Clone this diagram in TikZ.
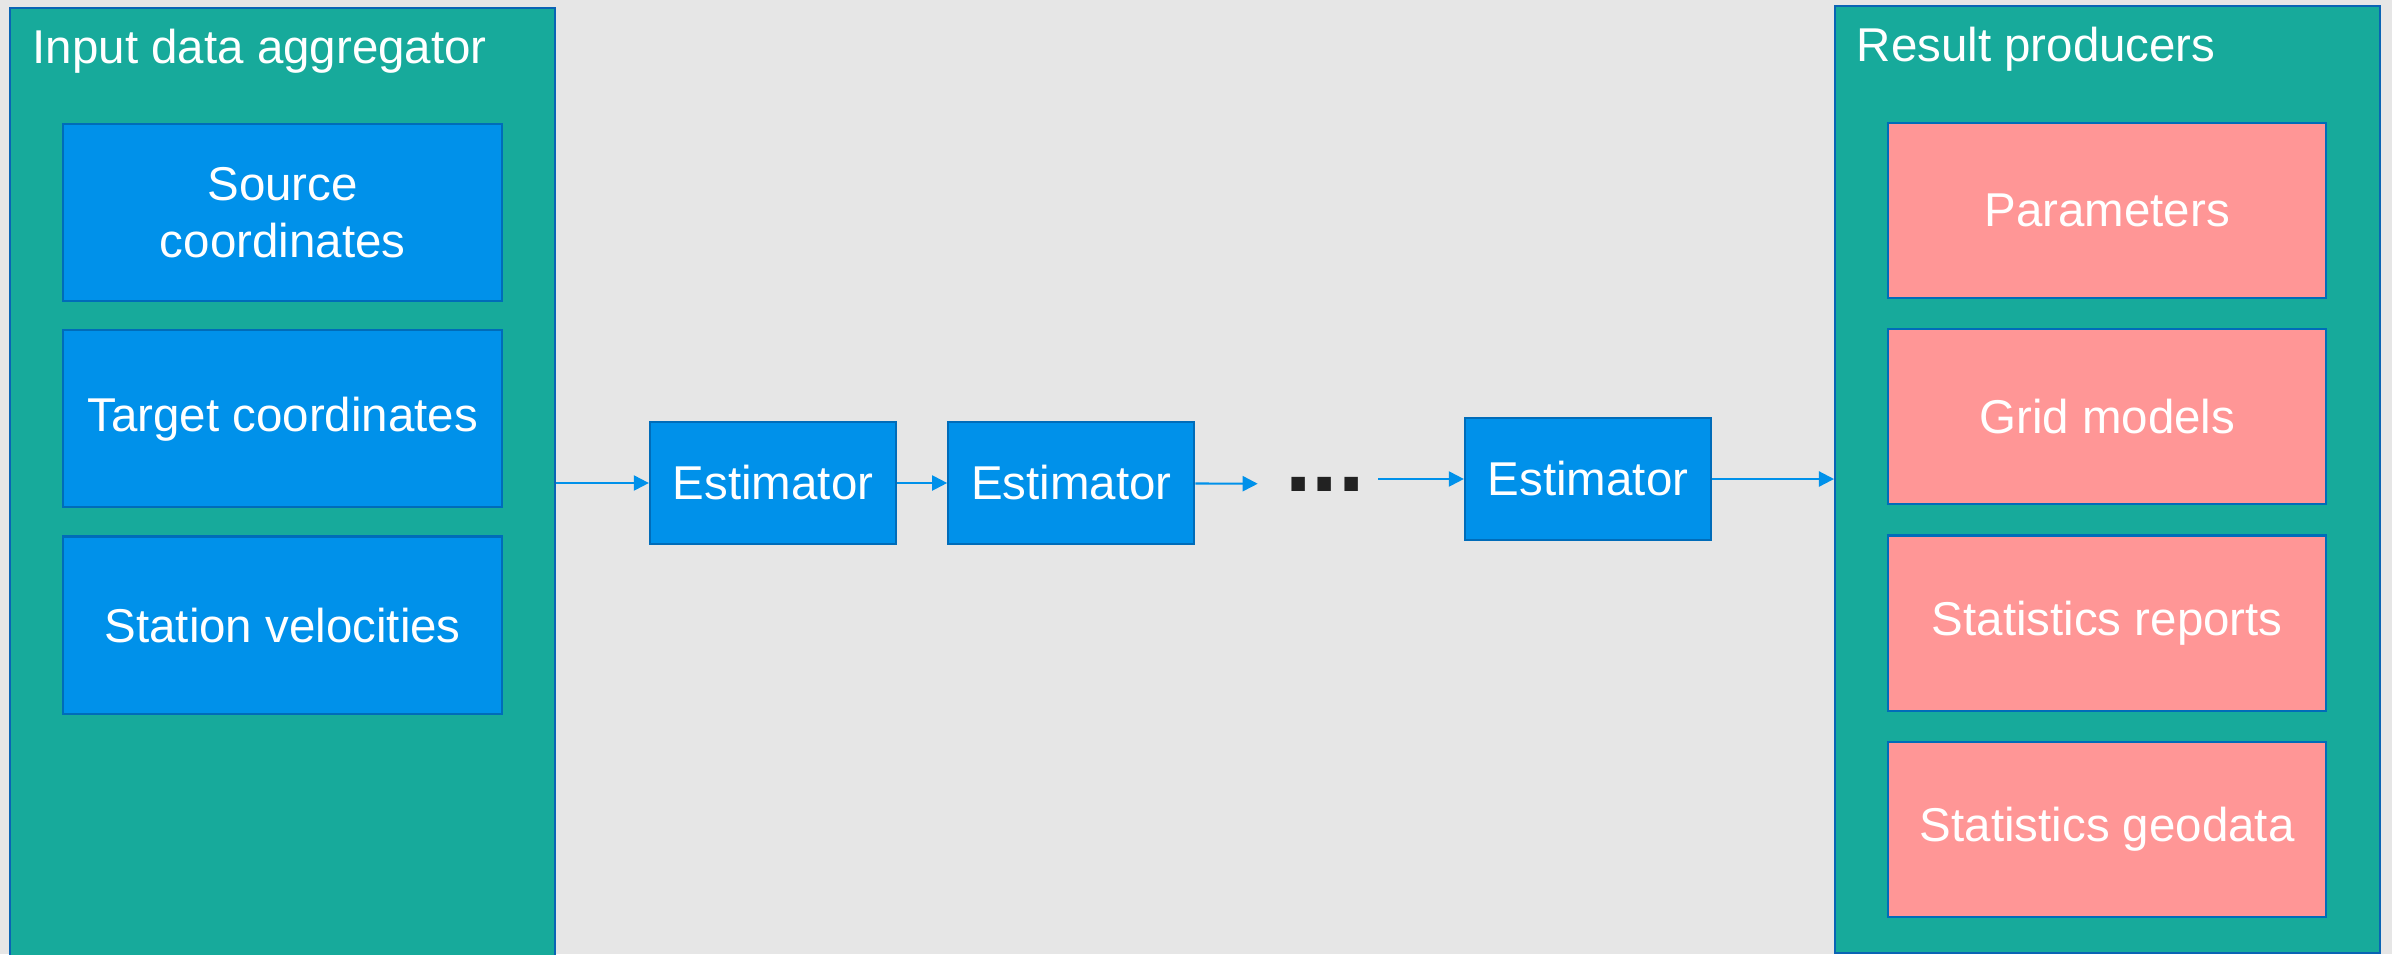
\documentclass[tikz,border=0pt]{standalone}
\usepackage{fontspec}
\setmainfont{Liberation Sans}
\usetikzlibrary{arrows.meta,positioning}

\definecolor{backgray}{RGB}{230,230,230}
\definecolor{panelfill}{RGB}{23,170,155}
\definecolor{panelline}{RGB}{10,100,180}
\definecolor{boxblue}{RGB}{0,145,234}
\definecolor{boxline}{RGB}{0,108,185}
\definecolor{boxpink}{RGB}{255,150,150}
\definecolor{dotgray}{RGB}{34,34,34}

\begin{document}
\begin{tikzpicture}[x=0.01cm,y=-0.01cm,>={Triangle[length=4.3pt,width=4.3pt]},
  group node/.style={rectangle,draw=panelline,fill=panelfill,line width=0.6pt,inner sep=0pt},
  title node/.style={text=white,font=\fontsize{13.5}{16.2}\selectfont,inner sep=0pt,anchor=base west},
  input node/.style={rectangle,draw=boxline,fill=boxblue,line width=0.6pt,text=white,align=center,
    font=\fontsize{13.5}{16.2}\selectfont,minimum width=4.39cm,minimum height=1.77cm},
  output node/.style={input node,fill=boxpink,minimum width=4.38cm,minimum height=1.75cm},
  est node/.style={input node,minimum width=2.46cm,minimum height=1.22cm},
  link/.style={->,draw=boxblue,line width=0.6pt}]

  % background
  \fill[backgray] (0,0) rectangle (2392,954);
  \useasboundingbox (0,0) rectangle (2392,954);

  % the two groups
  \node[group node,anchor=north west,minimum width=5.45cm,minimum height=10cm] (agg) at (9,7) {};
  \node[group node,anchor=north west,minimum width=5.45cm,minimum height=9.46cm] (res) at (1834,5) {};
  \node[title node] (aggtitle) at (32,63) {Input data aggregator};
  \node[title node] (restitle) at (1856,61) {Result producers};

  % inputs
  \node[input node,anchor=north west] (src) at (62,123) {Source\\coordinates};
  \node[input node] (tgt) [below=0.27cm of src] {Target coordinates};
  \node[input node] (vel) [below=0.27cm of tgt] {Station velocities};

  % outputs
  \node[output node,anchor=north west] (par) at (1887,122) {Parameters};
  \node[output node] (grid) [below=0.29cm of par] {Grid models};
  \node[output node] (rep) [below=0.29cm of grid] {Statistics reports};
  \node[output node] (geo) [below=0.29cm of rep] {Statistics geodata};

  % chain of estimators
  \node[est node] (est1) at (773,483) {Estimator};
  \node[est node] (est2) [right=0.5cm of est1] {Estimator};
  \node[text=dotgray,inner sep=0pt,font=\fontsize{27}{27}\selectfont\bfseries] (dots) at (1325,484) {...};
  \node[est node] (est3) at (1588,479) {Estimator};

  \draw[link] (agg.east |- est1.west) -- (est1.west);
  \draw[link] (est1) -- (est2);
  \draw[link,shorten >=0.27cm] (est2) -- (dots);
  \draw[link,shorten <=0.13cm] (dots.east |- est3.west) -- (est3.west);
  \draw[link] (est3) -- (est3.east -| res.west);
\end{tikzpicture}
\end{document}
